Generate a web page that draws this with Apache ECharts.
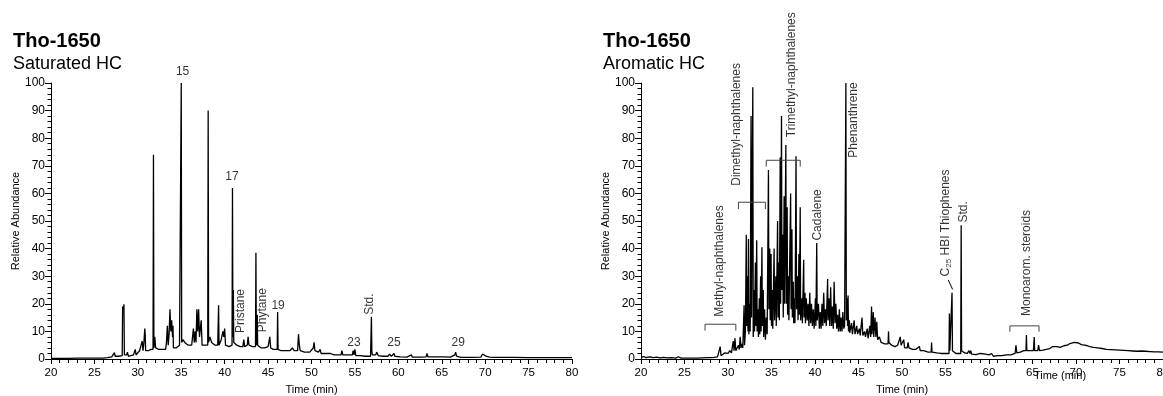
<!DOCTYPE html>
<html>
<head>
<meta charset="utf-8">
<script src="https://cdn.jsdelivr.net/npm/echarts@6/dist/echarts.min.js"></script>
<style>
  html, body { margin: 0; padding: 0; background: #fff; }
  #main { width: 1163px; height: 396px; }
</style>
</head>
<body>
<div id="main"></div>
<script>
// 饱和烃色谱 [time, abundance]
const satData = [
  [20,0.2],[21,0.2],[22,0.2],[23,0.3],[24,0.3],[24.9,0.3],[25,0.8],[25.1,0.3],[26,0.3],[26.5,0.5],[27,0.8],[27.2,1.5],[27.3,2.3],[27.4,1.0],
  [27.8,1.0],[28.2,1.2],[28.25,19],[28.3,19.5],[28.35,18],[28.4,19.8],[28.45,1.5],[28.7,1.5],[28.8,2.5],[28.9,1.0],[29.2,1.2],[29.5,1.5],
  [29.7,3.5],[29.8,1.5],[30.0,2.0],[30.2,3.0],[30.4,2.5],[30.5,6.5],[30.6,3],[30.7,6],[30.8,11],[30.85,9],[30.9,3],[31.2,3],[31.5,3.5],
  [31.75,3.5],[31.8,74],[31.85,4],[31.95,8],[32.05,4],[32.4,3.5],[32.8,3.5],[33.2,3.5],[33.3,6],[33.4,12],[33.5,5],[33.6,9],[33.7,18],
  [33.8,10],[33.9,14],[34.0,8],[34.05,12],[34.1,4],[34.4,4],[34.8,5],[34.95,5],[35.0,100],[35.05,6],[35.2,7],[35.4,6],[35.8,5],[36.2,5],
  [36.4,11],[36.5,6],[36.6,10],[36.7,6],[36.8,18],[36.9,10],[37.0,18],[37.1,8],[37.3,14],[37.4,5],[37.8,5],[38.05,5],[38.1,90],[38.15,6],
  [38.3,8],[38.5,6],[38.9,5],[39.2,5],[39.3,19.5],[39.35,5],[39.6,7],[39.8,10],[39.9,8],[40.0,11],[40.1,5],[40.5,4.5],[40.85,5],[40.9,62],
  [40.95,8],[41.0,25],[41.05,6],[41.4,5],[41.8,4.5],[42.1,4.5],[42.2,7],[42.3,4.5],[42.6,5],[42.7,8],[42.8,5],[43.2,4.5],[43.55,4.5],
  [43.6,38.5],[43.65,5],[43.75,16],[43.8,5],[44.2,4],[44.6,4],[45.0,4.5],[45.2,8],[45.3,4],[45.6,3.5],[46.05,3.5],[46.1,17],[46.15,3.5],
  [46.5,3],[47.0,3],[47.5,3],[47.8,4],[48.0,3],[48.4,3],[48.5,9],[48.6,5],[48.7,3],[49.2,2.5],[49.8,2.5],[50.2,4],[50.3,6],[50.4,3],
  [50.8,2.5],[51.0,3.5],[51.1,2],[51.6,2],[52.2,2],[52.6,1.5],[53.0,1.5],[53.4,1.5],[53.5,3],[53.6,1.5],[54.2,1.5],[54.7,1.5],[54.8,3],
  [54.9,1.5],[55.0,3.5],[55.1,1.2],[55.6,1.2],[56.2,1],[56.8,1],[56.9,15.3],[56.95,3],[57.0,1.5],[57.4,1.5],[57.5,2.5],[57.7,1.2],[58.2,1],
  [58.8,1],[59.0,1.8],[59.2,1],[59.5,2],[59.6,1],[60.2,0.8],[61.0,0.7],[61.5,1.5],[61.6,0.7],[62.5,0.7],[63.2,0.8],[63.3,2],[63.4,0.8],
  [64.3,0.8],[65.2,0.8],[66.0,0.7],[66.5,1.5],[66.6,2.5],[66.7,1],[67.2,0.6],[68.4,0.6],[68.5,1.2],[68.6,0.6],[69.5,0.7],[69.7,1.8],
  [69.9,2],[70.1,1],[70.5,0.7],[71.2,0.6],[72.0,0.6],[73.2,0.6],[73.3,1],[73.4,0.6],[75,0.5],[77,0.5],[77.1,0.8],[77.2,0.5],[80,0.5]
];

// 芳烃色谱 [time, abundance]
const aroData = [
  [20,0.6],[20.3,0.9],[20.6,0.5],[21,0.8],[21.4,0.5],[21.8,0.7],[22.2,0.4],[22.6,0.6],[23,0.4],[23.5,0.5],[24,0.3],[24.3,0.8],[24.6,0.3],
  [25,0.3],[25.5,0.3],[26,0.3],[26.5,0.3],[27,0.4],[27.5,0.5],[28,0.5],[28.4,0.6],[28.6,1.2],[28.8,0.8],[29.0,1.0],[29.1,4.5],[29.2,1.2],
  [29.4,1.5],[29.6,2.2],[29.8,1.6],[30.0,2.0],[30.2,3.0],[30.4,2.2],[30.6,6.5],[30.7,3],[30.8,7.5],[30.9,3],[31.0,3.5],[31.2,5],[31.3,3.5],
  [31.4,8],[31.5,4],[31.6,5.5],[31.7,4],[31.85,19.5],[31.9,5],[32.0,10],[32.1,45],[32.15,12],[32.25,30],[32.3,10],[32.35,43.5],[32.4,9],
  [32.5,20],[32.55,10],[32.65,88],[32.7,15],[32.85,98.5],[32.9,8],[33.0,25],[33.05,10],[33.15,35],[33.2,12],[33.3,43],[33.35,10],
  [33.45,18],[33.5,8],[33.6,22],[33.65,9],[33.75,30],[33.8,10],[33.9,40.5],[33.95,12],[34.05,25],[34.1,8],[34.2,18],[34.3,7],[34.4,15],
  [34.5,9],[34.65,68.5],[34.7,18],[34.8,40],[34.85,14],[34.95,38],[35.0,12],[35.1,25],[35.15,11],[35.3,40],[35.35,14],[35.5,30],
  [35.55,12],[35.7,50],[35.75,15],[35.85,35],[35.9,14],[36.0,73],[36.05,20],[36.15,88],[36.2,25],[36.3,45],[36.35,15],[36.45,59],
  [36.5,20],[36.65,77.5],[36.7,20],[36.8,55],[36.85,16],[36.95,30],[37.0,14],[37.2,60],[37.25,18],[37.35,47],[37.4,15],[37.5,28],
  [37.55,13],[37.65,22],[37.7,13],[37.82,73.5],[37.88,18],[38.0,30],[38.05,14],[38.15,38],[38.2,16],[38.3,55],[38.35,14],[38.5,22],
  [38.55,13],[38.7,36],[38.75,15],[38.85,24],[38.9,13],[39.0,22],[39.1,14],[39.2,20],[39.3,12],[39.4,24],[39.5,13],[39.6,20],[39.7,12],
  [39.8,18],[39.9,11],[40.05,22],[40.1,12],[40.2,42],[40.25,14],[40.4,20],[40.5,11],[40.6,17],[40.7,11],[40.8,20],[40.9,12],[41.0,24],
  [41.1,13],[41.2,18],[41.3,12],[41.45,29],[41.5,14],[41.6,22],[41.7,12],[41.8,26],[41.9,12],[42.0,19],[42.1,11],[42.2,28],[42.3,13],
  [42.4,20],[42.5,11],[42.6,16],[42.7,10],[42.8,18],[42.9,10],[43.0,15],[43.1,10],[43.2,17],[43.3,11],[43.4,12],[43.55,100],[43.6,14],
  [43.7,22],[43.75,12],[43.8,23],[43.85,10],[43.95,14],[44.0,9.5],[44.2,13],[44.3,9],[44.5,14],[44.6,9],[44.8,12],[44.9,9],[45.1,11],
  [45.2,8.5],[45.4,15],[45.5,8.5],[45.7,10],[45.8,8],[46.0,11],[46.1,7.5],[46.3,12],[46.4,8],[46.5,19],[46.55,9],[46.7,17],[46.75,8],
  [46.9,15],[47.0,8],[47.1,13.5],[47.2,7],[47.4,8],[47.6,6],[47.8,6],[48.0,5.5],[48.2,5],[48.4,5.5],[48.45,10],[48.5,6],[48.8,5],
  [49.0,5.5],[49.2,4.5],[49.5,5],[49.7,4.5],[49.8,8],[49.9,5],[50.1,4.5],[50.2,7],[50.3,4],[50.6,4],[50.7,6],[50.8,4],[51.2,3.5],
  [51.6,3.5],[52.0,4.5],[52.1,3],[52.5,3],[53.0,2.5],[53.35,2.5],[53.4,6],[53.45,2.5],[54.0,2.2],[54.5,2],[55.0,2],[55.4,2],[55.45,16.5],
  [55.5,3],[55.65,2.5],[55.75,24],[55.8,3],[56.2,2],[56.75,2],[56.8,48.5],[56.85,3],[57.2,2.2],[57.5,2],[57.7,3],[57.8,2],[57.9,3],
  [58.0,1.8],[58.5,1.6],[59.0,2],[59.2,1.5],[59.6,1.8],[60.0,1.5],[60.3,2],[60.5,1],[61.0,1.2],[61.5,1.2],[62.0,1.5],[62.5,1.5],[63.0,2],
  [63.1,5],[63.2,2.2],[63.6,2.5],[64.0,3],[64.25,3],[64.3,8.7],[64.35,3],[64.8,3],[65.1,3],[65.2,8],[65.25,3],[65.6,3],[65.7,5],[65.8,3],
  [66.2,3.2],[66.6,3.5],[67.0,3.8],[67.3,4.5],[67.5,4],[67.8,4.5],[68.2,4.2],[68.6,4.8],[69.0,5],[69.3,5.6],[69.5,5.2],[69.8,6],[70.0,5.5],
  [70.3,5.8],[70.6,5.2],[71.0,5],[71.3,4.8],[71.6,4.5],[72.0,4.2],[72.5,4],[73.0,3.8],[73.5,3.5],[74.0,3.4],[74.5,3.3],[75.0,3.2],
  [75.5,3.1],[76.0,3],[76.5,2.9],[77.0,2.8],[77.5,2.9],[78.0,2.8],[78.5,2.7],[79.0,2.6],[79.5,2.6],[80,2.5]
];

// 峰标注 [time, abundance, text, rotate]
const satLabels = [
  [35.15, 104, '15', 0],
  [40.85, 66, '17', 0],
  [41.8, 17.4, 'Pristane', 90],
  [44.4, 17.7, 'Phytane', 90],
  [46.15, 19.2, '19', 0],
  [56.75, 19.9, 'Std.', 90],
  [54.9, 5.8, '23', 0],
  [59.5, 5.8, '25', 0],
  [66.9, 5.8, '29', 0]
];
const aroLabels = [
  [29.1, 35.5, 'Methyl-naphthalenes', 90],
  [31.0, 85, 'Dimethyl-naphthalenes', 90],
  [37.3, 103, 'Trimethyl-naphthalenes', 90],
  [40.3, 52.2, 'Cadalene', 90],
  [44.4, 86.6, 'Phenanthrene', 90],
  [55.06, 49.3, '{a|C}{s|25}{a| HBI Thiophenes}', 90],
  [57.05, 53.3, 'Std.', 90],
  [64.33, 34.8, 'Monoarom. steroids', 90]
];

// 括号 [start, end, level, foot]
const brackets = [
  [27.36, 30.9, 12.6, 10.3],
  [31.2, 34.3, 56.8, 54.3],
  [34.4, 38.3, 72, 69.7],
  [62.4, 65.75, 12, 9.9]
];
const thiopheneLeader = [[55.32, 28.6], [55.82, 25.2]];

const xTicks = { min: 20, max: 80, step: 5 };
const yTicks = { min: 0, max: 100, step: 10 };

const FONT = 'Liberation Sans, Arial, Helvetica, sans-serif';
const chart = echarts.init(document.getElementById('main'), null, { renderer: 'canvas' });

function xAxisFor(i) {
  return {
    gridIndex: i, type: 'value', min: xTicks.min, max: xTicks.max, interval: xTicks.step,
    name: 'Time (min)', nameLocation: 'middle', nameGap: 25,
    nameTextStyle: { fontFamily: FONT, fontSize: 11, color: '#000' },
    axisLine: { lineStyle: { color: '#000', width: 1 } },
    axisTick: { length: 5, lineStyle: { color: '#000' } },
    minorTick: { show: true, splitNumber: 5, length: 4, lineStyle: { color: '#000' } },
    axisLabel: { fontFamily: FONT, fontSize: 11.5, color: '#000', margin: 8, hideOverlap: false },
    splitLine: { show: false }
  };
}
function yAxisFor(i) {
  return {
    gridIndex: i, type: 'value', min: yTicks.min, max: yTicks.max, interval: yTicks.step,
    name: 'Relative Abundance', nameLocation: 'middle', nameGap: 26,
    nameTextStyle: { fontFamily: FONT, fontSize: 11, color: '#000' },
    axisLine: { show: true, lineStyle: { color: '#000', width: 1 } },
    axisTick: { length: 6, lineStyle: { color: '#000' } },
    minorTick: { show: true, splitNumber: 5, length: 3.5, lineStyle: { color: '#000' } },
    axisLabel: { fontFamily: FONT, fontSize: 12, color: '#000', margin: 6 },
    splitLine: { show: false }
  };
}
function labelSeries(i, list) {
  return {
    type: 'scatter', xAxisIndex: i, yAxisIndex: i, silent: true, clip: false,
    symbolSize: 1, itemStyle: { color: 'rgba(0,0,0,0)' },
    data: list.map(d => ({
      value: [d[0], d[1]], name: d[2],
      label: { rotate: d[3] }
    })),
    label: {
      show: true, position: 'inside', formatter: '{b}',
      fontFamily: FONT, fontSize: 12, color: '#000',
      rich: {
        a: { fontFamily: FONT, fontSize: 12, color: '#000' },
        s: { fontFamily: FONT, fontSize: 8, color: '#000', padding: [6, 0, 0, 0] }
      }
    }
  };
}
function trace(i, data) {
  return {
    type: 'line', xAxisIndex: i, yAxisIndex: i, data: data,
    showSymbol: false, silent: true, sampling: 'none',
    lineStyle: { color: '#000', width: 1.3 }
  };
}

const series = [trace(0, satData), trace(1, aroData), labelSeries(0, satLabels), labelSeries(1, aroLabels)];
brackets.forEach(b => {
  series.push({
    type: 'line', xAxisIndex: 1, yAxisIndex: 1, silent: true, showSymbol: false,
    data: [[b[0], b[3]], [b[0], b[2]], [b[1], b[2]], [b[1], b[3]]],
    lineStyle: { color: '#444', width: 1 }
  });
});
series.push({
  type: 'line', xAxisIndex: 1, yAxisIndex: 1, silent: true, showSymbol: false,
  data: thiopheneLeader, lineStyle: { color: '#000', width: 1 }
});

chart.setOption({
  animation: false,
  backgroundColor: '#fff',
  grid: [
    { left: 51, top: 83, width: 521, height: 276, outerBoundsMode: 'none', containLabel: false },
    { left: 641, top: 83, width: 522, height: 276, outerBoundsMode: 'none', containLabel: false }
  ],
  xAxis: [xAxisFor(0), xAxisFor(1)],
  yAxis: [yAxisFor(0), yAxisFor(1)],
  graphic: [
    { type: 'text', x: 13, y: 41, style: { text: 'Tho-1650', font: 'bold 20px ' + FONT, fill: '#000', verticalAlign: 'middle' } },
    { type: 'text', x: 13, y: 64, style: { text: 'Saturated HC', font: '18px ' + FONT, fill: '#000', verticalAlign: 'middle' } },
    { type: 'text', x: 603, y: 41, style: { text: 'Tho-1650', font: 'bold 20px ' + FONT, fill: '#000', verticalAlign: 'middle' } },
    { type: 'text', x: 603, y: 64, style: { text: 'Aromatic HC', font: '18px ' + FONT, fill: '#000', verticalAlign: 'middle' } },
    // 右图多出的第二个坐标名
    { type: 'text', x: 1060, y: 376, style: { text: 'Time (min)', font: '11px ' + FONT, fill: '#000', align: 'center', verticalAlign: 'middle' } }
  ],
  series: series
});
</script>
</body>
</html>
